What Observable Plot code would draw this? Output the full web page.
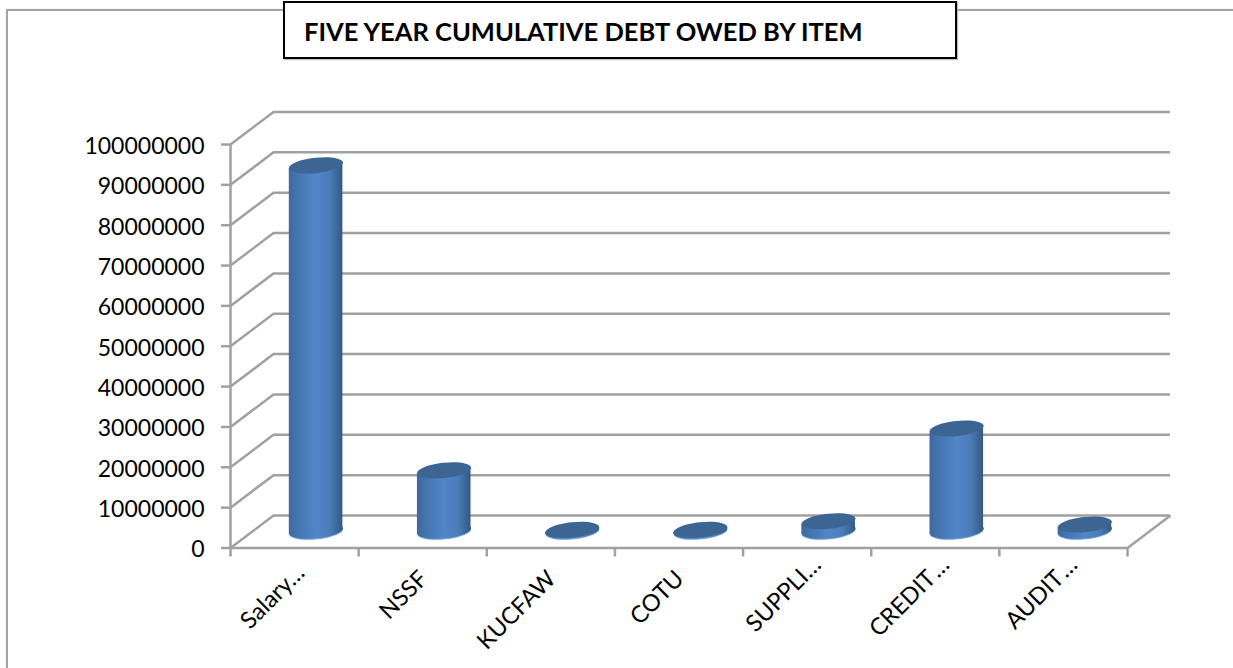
<!DOCTYPE html>
<html>
<head>
<meta charset="utf-8">
<script src="https://cdn.jsdelivr.net/npm/d3@7"></script>
<script src="https://cdn.jsdelivr.net/npm/@observablehq/plot@0.6"></script>
<style>
  html, body { margin: 0; padding: 0; background: #fff; overflow: hidden; }
  #page { position: relative; width: 1233px; height: 668px; }
  #frame { position: absolute; left: 6px; top: 9px; right: -4px; bottom: -4px;
           border: 2px solid #a3a3a3; box-shadow: 0 0 1px #c8c8c8; }
  #title { position: absolute; left: 283px; top: 1px; width: 670px; height: 54px; box-sizing: content-box;
           background: #fff; border: 2.5px solid #000; box-shadow: 1px 1px 1px #bbb;
           font: 700 25.5px Lato, sans-serif; color: #000; line-height: 56px; text-indent: 19px; white-space: nowrap; }
  svg { position: absolute; left: 0; top: 0; display: block; }
</style>
</head>
<body>
<div id="page">
  <div id="frame"></div>
  <div id="title">FIVE YEAR CUMULATIVE DEBT OWED BY ITEM</div>
</div>
<script>
// Debt per item, in shillings
const items = ["Salary…", "NSSF", "KUCFAW", "COTU", "SUPPLI…", "CREDIT\u200a…", "AUDIT\u200a…"];
const debts = [90800000, 15200000, 500000, 500000, 2600000, 25600000, 1800000];
const yTicks = d3.range(0, 100000001, 10000000);
const xEdges = d3.range(0, items.length + 1);

// Oblique projection of the chart box, in data units
const depthX = 0.3356;
const depthY = 8050000;
const halfBar = 0.209;
const lean = 700000;

const rows = items.map((item, i) => ({item, debt: debts[i], x: i + 0.5 + depthX / 2}));
const sides = rows.flatMap(d => [
  {...d, sx: d.x - halfBar, y1: depthY / 2 - lean, y2: depthY / 2 + d.debt - lean},
  {...d, sx: d.x + halfBar, y1: depthY / 2 + lean, y2: depthY / 2 + d.debt + lean}
]);

// A slightly tilted ellipse for the cylinder caps
const cap = {
  draw(ctx) {
    const rx = 27, ry = 7.6, t = -6 * Math.PI / 180, k = 0.5523;
    const p = (a, b) => [a * Math.cos(t) - b * Math.sin(t), a * Math.sin(t) + b * Math.cos(t)];
    const c = (...q) => ctx.bezierCurveTo(...p(q[0], q[1]), ...p(q[2], q[3]), ...p(q[4], q[5]));
    ctx.moveTo(...p(rx, 0));
    c(rx, k * ry, k * rx, ry, 0, ry);
    c(-k * rx, ry, -rx, k * ry, -rx, 0);
    c(-rx, -k * ry, -k * rx, -ry, 0, -ry);
    c(k * rx, -ry, rx, -k * ry, rx, 0);
    ctx.closePath();
  }
};

const gridColor = "#a0a0a0";
const gridWidth = 2.5;

const gradients = () => {
  const svg = d3.create("svg:g");
  const defs = svg.append("defs");
  const body = defs.append("linearGradient").attr("id", "cylinder");
  [[0, "#3c699f"], [0.12, "#4272ad"], [0.5, "#5286c8"], [0.75, "#4c7dba"], [0.92, "#3b6694"], [1, "#325880"]]
    .forEach(([o, c]) => body.append("stop").attr("offset", o).attr("stop-color", c));
  return svg.node();
};

// Rotated category labels, in three groups that sit differently under the axis
const labelGroup = (names, dx, dy) => Plot.text(items, {
  filter: d => names.includes(d),
  x: d => items.indexOf(d) + 0.5, y: 0, text: d => d,
  rotate: -45, textAnchor: "end", dx, dy, fill: "#000", fontSize: 23.5
});

const chart = Plot.plot({
  width: 1233,
  height: 668,
  marginLeft: 230,
  marginRight: 106,
  marginTop: 144,
  marginBottom: 120.5,
  style: {background: "transparent", fontFamily: "Lato, sans-serif", fontSize: "23px", color: "#000", overflow: "visible"},
  x: {domain: [0, items.length]},
  y: {domain: [0, 100000000]},
  marks: [
    gradients,
    // Back wall and left wall grid
    Plot.ruleY(yTicks, {y: d => d + depthY, x1: depthX, x2: items.length + depthX, stroke: gridColor, strokeWidth: gridWidth}),
    Plot.link(yTicks, {x1: 0, x2: depthX, y1: d => d, y2: d => d + depthY, stroke: gridColor, strokeWidth: gridWidth}),
    // Floor edges
    Plot.ruleY([0], {x1: 0, x2: items.length, stroke: gridColor, strokeWidth: gridWidth}),
    Plot.link([0], {x1: items.length, x2: items.length + depthX, y1: 0, y2: depthY, stroke: gridColor, strokeWidth: gridWidth}),
    Plot.ruleX([0], {y1: 0, y2: 100000000, stroke: gridColor, strokeWidth: gridWidth}),
    // Axes
    Plot.axisY({ticks: yTicks, tickFormat: () => "", tickSize: 9, label: null, stroke: gridColor, strokeWidth: gridWidth}),
    Plot.text(yTicks, {x: 0, y: d => d, text: d3.format("d"), textAnchor: "end", dx: -26, dy: 2, fill: "#000", fontSize: 23}),
    Plot.axisX({ticks: xEdges, tickFormat: () => "", tickSize: 9, label: null, stroke: gridColor, strokeWidth: gridWidth}),
    labelGroup(["Salary…"], 6, 21),
    labelGroup(["NSSF", "KUCFAW", "COTU"], 1, 27),
    labelGroup(["SUPPLI…", items[5], items[6]], 10, 13),
    // Cylinders
    Plot.dot(rows, {x: "x", y: depthY / 2, symbol: cap, fill: "#6ea3e0"}),
    Plot.dot(rows, {x: "x", y: depthY / 2, dy: -1, symbol: cap, fill: "url(#cylinder)"}),
    Plot.areaY(sides, {x: "sx", y1: "y1", y2: "y2", z: "item", fill: "url(#cylinder)", curve: "linear"}),
    Plot.dot(rows, {x: "x", y: d => depthY / 2 + d.debt, symbol: cap, fill: "#3c6594"})
  ]
});
document.getElementById("page").insertBefore(chart, document.getElementById("title"));
</script>
</body>
</html>
